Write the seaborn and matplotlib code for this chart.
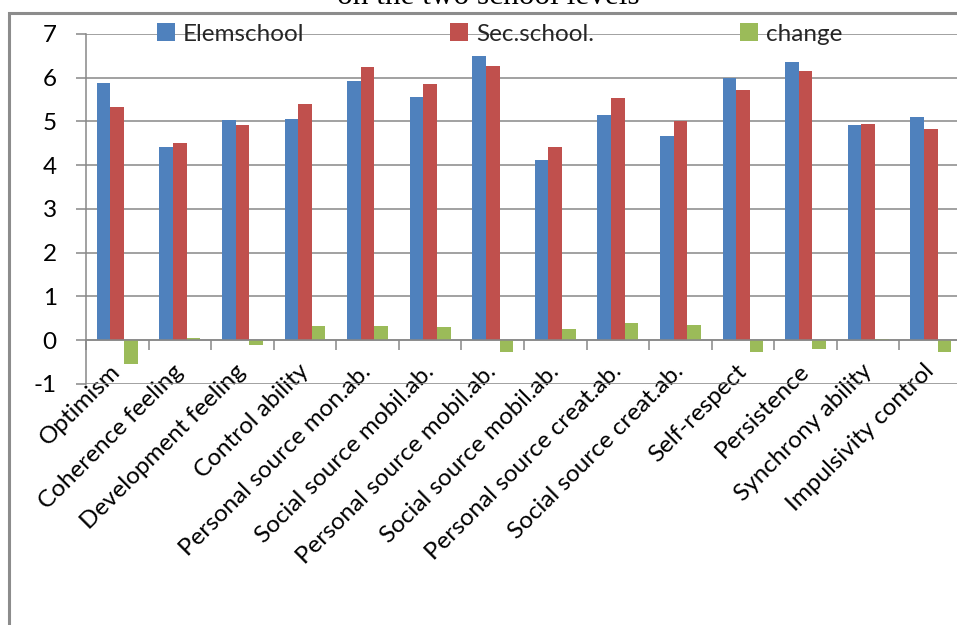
import matplotlib
matplotlib.use("Agg")
import matplotlib.pyplot as plt
import matplotlib.patches as mpatches
from matplotlib.ticker import FixedLocator
import numpy as np
import pandas as pd
import seaborn as sns

categories = [
    "Optimism", "Coherence feeling", "Development feeling", "Control ability",
    "Personal source mon.ab.", "Social source mobil.ab.", "Personal source mobil.ab.",
    "Social source mobil.ab.", "Personal source creat.ab.", "Social source creat.ab.",
    "Self-respect", "Persistence", "Synchrony ability", "Impulsivity control",
]
elemschool = [5.89, 4.42, 5.03, 5.06, 5.93, 5.57, 6.50, 4.12, 5.15, 4.67, 5.99, 6.36, 4.92, 5.10]
secschool = [5.34, 4.51, 4.92, 5.40, 6.25, 5.86, 6.27, 4.42, 5.54, 5.01, 5.72, 6.15, 4.94, 4.83]
change = [-0.55, 0.06, -0.11, 0.32, 0.32, 0.30, -0.26, 0.25, 0.39, 0.34, -0.28, -0.20, 0.02, -0.27]
series_names = ["Elemschool", "Sec.school.", "change"]
colors = ["#4F81BD", "#C0504D", "#9BBB59"]
y_ticks = [-1, 0, 1, 2, 3, 4, 5, 6, 7]

sns.set_style("white")
plt.rcParams["font.family"] = ["Lato", "DejaVu Sans"]

idx = list(range(len(categories)))
df = pd.DataFrame({
    "pos": idx * 3,
    "value": elemschool + secschool + change,
    "series": [series_names[0]] * len(idx) + [series_names[1]] * len(idx) + [series_names[2]] * len(idx),
})

W, H = 957, 625
fig = plt.figure(figsize=(W / 100, H / 100), dpi=100)
fig.patch.set_facecolor("white")

# outer chart frame
frame = mpatches.Rectangle((9 / W, -0.2), 1.2, 1.2 + (1 - 13 / H) - 1,
                           transform=fig.transFigure, fill=False,
                           edgecolor="#8C8C8C", linewidth=2.2, zorder=0)
fig.patches.append(frame)

# title (only the bottom line sits inside the canvas)
fig.text(488 / W, 1 - 4 / H, "on the two school levels", ha="center", va="baseline",
         fontsize=22.5, family=["Liberation Serif", "DejaVu Serif"], color="black")

left_px, right_px = 86, 962
top_px, bot_px = 34, 384
ax = fig.add_axes([left_px / W, 1 - bot_px / H, (right_px - left_px) / W, (bot_px - top_px) / H])

sns.barplot(data=df, x="pos", y="value", hue="series", order=idx,
            hue_order=series_names, palette=colors, width=0.655, saturation=1,
            edgecolor="none", linewidth=0, ax=ax, errorbar=None)

ax.set_xlim(-0.5, len(categories) - 0.5)
ax.set_ylim(-1, 7)
ax.set_xlabel("")
ax.set_ylabel("")

grid_c = "#888888"
for s in ["top", "right"]:
    ax.spines[s].set_visible(False)
ax.spines["left"].set_color(grid_c)
ax.spines["left"].set_linewidth(1.1)
ax.spines["bottom"].set_position(("data", 0))
ax.spines["bottom"].set_color(grid_c)
ax.spines["bottom"].set_linewidth(1.1)

ax.set_yticks(y_ticks)
ax.set_yticklabels([str(v) for v in y_ticks])
ax.yaxis.grid(True, color=grid_c, linewidth=1.1)
ax.set_axisbelow(True)
ax.tick_params(axis="y", which="major", left=True, length=7, width=1.1, color=grid_c,
               pad=14, labelsize=17.5, labelcolor="black")

# category boundary ticks and centered labels
ax.xaxis.set_major_locator(FixedLocator(np.arange(-0.5, len(categories) + 0.5, 1.0)))
ax.xaxis.set_minor_locator(FixedLocator(idx))
ax.set_xticklabels([""] * (len(categories) + 1))
ax.set_xticklabels(categories, minor=True, rotation=45, ha="right", va="center",
                   rotation_mode="anchor")
ax.tick_params(axis="x", which="major", bottom=True, length=7, width=1.1, color=grid_c,
               direction="out")
ax.tick_params(axis="x", which="minor", bottom=True, length=0, pad=20, labelsize=17.5,
               labelcolor="black")

handles, labels = ax.get_legend_handles_labels()
ax.legend(handles, labels, ncol=3, loc="center left",
          bbox_to_anchor=((157 - left_px) / (right_px - left_px), 1.0),
          frameon=False, fontsize=17.5, handlelength=0.72, handleheight=0.72,
          handletextpad=0.35, columnspacing=6.0, borderaxespad=0, borderpad=0)

fig.savefig("out.png", dpi=100, facecolor="white")
